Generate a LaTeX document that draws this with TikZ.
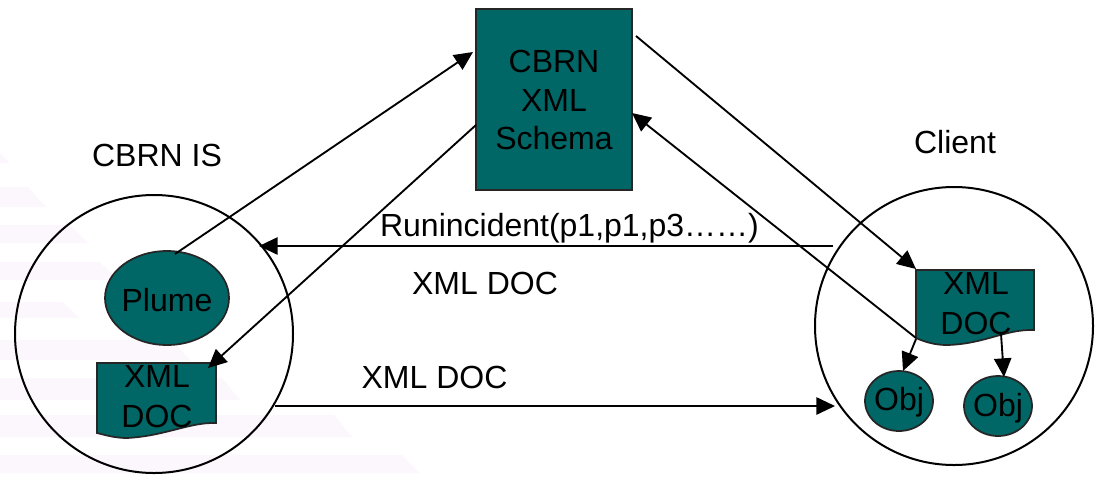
\documentclass[tikz,border=0pt]{standalone}
\usepackage{fontspec}
\setmainfont{Liberation Sans}
\usetikzlibrary{arrows.meta,shapes.geometric}
\definecolor{teal1}{HTML}{006666}
\definecolor{haze}{HTML}{FCF6FD}
\newcommand{\lbl}{\fontsize{24}{30}\selectfont}
\tikzset{
  x=0.75pt,y=-0.75pt,
  ln/.style={line width=1.4pt,black},
  arr/.style={ln,-{Triangle[length=14pt,width=13pt]}},
  shp/.style={draw=black!85,line width=1.3pt,fill=teal1},
  txt/.style={inner sep=0pt,font=\lbl,align=center,text=black},
  ring/.style={draw=black,line width=1.5pt,circle,inner sep=0pt,minimum size=208.5pt},
  blob/.style={fill=haze,draw=none},
}
\begin{document}
\begin{tikzpicture}
\useasboundingbox (0,0) rectangle (1102,483);
% faint background texture
\foreach \yy/\xx/\hh in {145/10/18,187/46/20,225/88/18,262/118/18,302/80/16,340/190/20,378/240/22,415/352/22,455/420/18}
  \fill[blob] (0,\yy) -- ({\xx-18},\yy) -- (\xx,{\yy+\hh}) -- (0,{\yy+\hh}) -- cycle;
% containers
\node[ring] (is) at (154,334) {};
\node[ring] (client) at (954,326) {};
% shapes
\node[shp,draw,rectangle,minimum width=117pt,minimum height=136pt,inner sep=0pt] (schema) at (554,99.5) {};
\node[txt] (schemat) at (554,100) {CBRN\\[-0.8pt]XML\\[-0.8pt]Schema};
\node[shp,ellipse,minimum width=93pt,minimum height=70.5pt,inner sep=0pt] (plume) at (167,298) {};
\node[txt] at (167,300) {Plume};
\node[shp,ellipse,minimum width=51pt,minimum height=45pt,inner sep=0pt] (obja) at (899,401) {};
\node[txt] at (899,402.5) {Obj};
\node[shp,ellipse,minimum width=51pt,minimum height=45pt,inner sep=0pt] (objb) at (998,406) {};
\node[txt] at (998,408) {Obj};
% documents
\draw[shp] (97,363) -- (216,363) -- (216,423) .. controls (190,422) and (165,436) .. (127,438) .. controls (115,438) and (105,435) .. (97,433) -- cycle;
\draw[shp] (916,270) -- (1034,270) -- (1034,330) .. controls (1005,329) and (985,344) .. (947,345) .. controls (935,345) and (925,342) .. (916,338) -- cycle;
\node[txt] (doca) at (157,396.5) {XML\\[0pt]DOC};
\node[txt] (docb) at (976,303.5) {XML\\[0pt]DOC};
% labels
\node[txt] (cbrnis) at (157,155) {CBRN IS};
\node[txt] (clientl) at (955,142) {Client};
\node[txt] (run) at (569.5,228.5) {Runincident(p1,p1,p3……)};
\node[txt] (doc1) at (485,283) {XML DOC};
\node[txt] (doc2) at (434.5,377) {XML DOC};
% free ends
\coordinate (pstart) at (175,254);
\coordinate (pend) at (473,52);
\coordinate (sstart) at (476,125);
\coordinate (send) at (208,368);
\coordinate (cstart) at (636,36);
\coordinate (cend) at (916,269);
\coordinate (rstart) at (833,246);
\coordinate (rend) at (259,246);
\coordinate (xstart) at (275,406);
\coordinate (xend) at (835,406);
\coordinate (bstart) at (916,338);
\coordinate (bend) at (632,113);
\coordinate (oa) at (916,339);
\coordinate (oae) at (903,371);
\coordinate (ob) at (1001,334);
\coordinate (obe) at (1004,377);
% connectors
\draw[arr] (pstart) -- (pend);
\draw[arr] (sstart) -- (send);
\draw[arr] (cstart) -- (cend);
\draw[arr] (rstart) -- (rend);
\draw[arr] (xstart) -- (xend);
\draw[arr] (bstart) -- (bend);
\draw[arr] (oa) -- (oae);
\draw[arr] (ob) -- (obe);
\end{tikzpicture}
\end{document}
